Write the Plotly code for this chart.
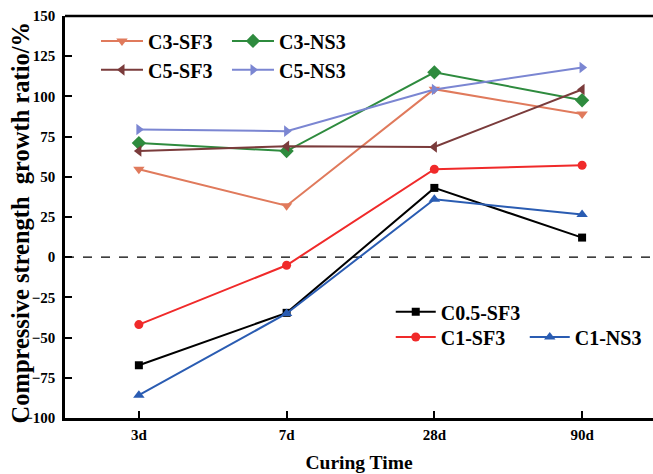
import plotly.graph_objects as go

categories = ["3d", "7d", "28d", "90d"]

c3_sf3 = [54.7, 32.0, 104.5, 89.0]
c3_ns3 = [71.0, 66.0, 115.0, 97.6]
c5_sf3 = [66.0, 69.0, 68.6, 104.3]
c5_ns3 = [79.4, 78.4, 104.3, 118.0]
c05_sf3 = [-67.2, -34.6, 43.1, 12.2]
c1_sf3 = [-41.9, -5.0, 54.7, 57.2]
c1_ns3 = [-85.8, -35.0, 36.0, 26.5]

FONT = "Liberation Serif"

series = [
    ("C3-SF3", c3_sf3, "#E07A5C", "triangle-down", 10, "legend"),
    ("C3-NS3", c3_ns3, "#2E8B3E", "diamond", 11, "legend"),
    ("C5-SF3", c5_sf3, "#7A3B3B", "triangle-left", 10, "legend2"),
    ("C5-NS3", c5_ns3, "#7B86D2", "triangle-right", 10, "legend2"),
    ("C0.5-SF3", c05_sf3, "#000000", "square", 8, "legend3"),
    ("C1-SF3", c1_sf3, "#F02A2A", "circle", 9, "legend4"),
    ("C1-NS3", c1_ns3, "#2A5CB2", "triangle-up", 10, "legend4"),
]

fig = go.Figure()
for name, vals, color, sym, msize, leg in series:
    fig.add_trace(go.Scatter(
        x=list(range(len(categories))), y=vals, name=name, mode="lines+markers",
        line=dict(color=color, width=2),
        marker=dict(symbol=sym, size=msize, color=color),
        legend=leg,
    ))

fig.add_shape(type="line", xref="paper", yref="y", x0=0, x1=1, y0=0, y1=0,
              line=dict(color="black", width=1.2, dash="dash"), layer="below")

legfont = dict(family=FONT, size=20, weight="bold", color="black")

def leg(x, y, ew, iw):
    return dict(orientation="h", x=x, y=y, xanchor="left", yanchor="middle",
                entrywidth=ew, bgcolor="rgba(0,0,0,0)", itemwidth=iw,
                borderwidth=0, font=legfont)

fig.update_layout(
    width=653, height=474,
    margin=dict(l=65, r=0, t=16, b=56, autoexpand=False),
    paper_bgcolor="white", plot_bgcolor="white",
    font=dict(family=FONT, color="black"),
    xaxis=dict(
        range=[-0.5, 3.48], tickvals=list(range(len(categories))), ticktext=categories,
        ticks="inside", ticklen=7, tickwidth=2, tickcolor="black", ticklabelstandoff=1,
        showline=True, linecolor="black", linewidth=2.5, mirror=False,
        showgrid=False, zeroline=False, automargin=False,
        tickfont=dict(family=FONT, size=15, color="black", weight="bold"),
        title=dict(text="<b>Curing Time</b>", font=dict(family=FONT, size=19.5), standoff=14),
    ),
    yaxis=dict(
        range=[-100, 150], tickvals=[-100, -75, -50, -25, 0, 25, 50, 75, 100, 125, 150],
        ticks="inside", ticklen=7, tickwidth=2, tickcolor="black", ticklabelstandoff=4,
        showline=True, linecolor="black", linewidth=2.5,
        showgrid=False, zeroline=False, automargin=False,
        tickfont=dict(family=FONT, size=15, color="black", weight="bold"),
    ),
    legend=leg(0.0527, 0.938, 74, 42),
    legend2=leg(0.0527, 0.866, 74, 42),
    legend3=leg(0.554, 0.264, 80, 40),
    legend4=leg(0.554, 0.2015, 79, 40),
)

fig.add_annotation(
    text="<b>Compressive strength  growth ratio/%</b>", textangle=-90,
    xref="paper", yref="paper", x=-0.0757, y=0.4876, xanchor="center", yanchor="middle",
    showarrow=False, font=dict(family=FONT, size=24.5, color="black"),
)

# top spine
fig.add_shape(type="line", xref="paper", yref="paper", x0=0, x1=1, y0=1, y1=1,
              line=dict(color="black", width=2.5))

fig.write_html("out.html", config={"displayModeBar": False},
               post_script="document.body.style.margin='0';document.body.style.overflow='hidden';")
